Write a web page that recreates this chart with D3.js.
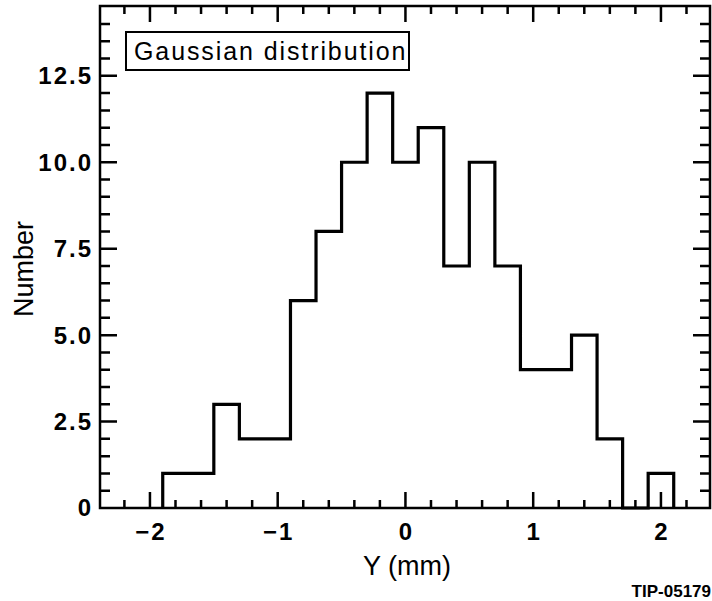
<!DOCTYPE html>
<html>
<head>
<meta charset="utf-8">
<script src="https://cdn.jsdelivr.net/npm/d3@7"></script>
<style>
  html, body { margin: 0; padding: 0; background: #fff; }
  svg { display: block; }
  text { font-family: "Liberation Sans", Arial, Helvetica, sans-serif; fill: #000; }
</style>
</head>
<body>
<svg id="chart" width="712" height="601"></svg>
<script>
// ---- data ----
const binStarts = [-1.9, -1.7, -1.5, -1.3, -1.1, -0.9, -0.7, -0.5, -0.3, -0.1,
                   0.1, 0.3, 0.5, 0.7, 0.9, 1.1, 1.3, 1.5, 1.7, 1.9];
const binWidth = 0.2;
const counts = [1, 1, 3, 2, 2, 6, 8, 10, 12, 10,
                11, 7, 10, 7, 4, 4, 5, 2, 0, 1];
const xTickValues = [-2, -1, 0, 1, 2];
const xTickLabels = ["−2", "−1", "0", "1", "2"];
const yTickValues = [0, 2.5, 5, 7.5, 10, 12.5];
const yTickLabels = ["0", "2.5", "5.0", "7.5", "10.0", "12.5"];
const legendLabel = "Gaussian distribution";
const xTitle = "Y (mm)";
const yTitle = "Number";
const figureId = "TIP-05179";

// ---- layout ----
const L = 100, R = 710, T = 6, B = 508;
const svg = d3.select("#chart");

const x = d3.scaleLinear().domain([-2.391, 2.384]).range([L, R]);
const y = d3.scaleLinear().domain([0, 14.52]).range([B, T]);

// frame + inward ticks on all four sides, one path
const xMinorVals = d3.range(-11, 12).map(k => k / 5).filter(v => x(v) > L + 1 && x(v) < R - 1);
const yMinorVals = d3.range(1, 29).map(k => k / 2).filter(v => y(v) > T + 1);
const isMajorX = v => xTickValues.some(t => Math.abs(t - v) < 1e-6);
const isMajorY = v => yTickValues.some(t => Math.abs(t - v) < 1e-6);

const fp = d3.path();
fp.rect(L, T, R - L, B - T);
xMinorVals.forEach(v => {
  const len = isMajorX(v) ? 16 : 8;
  const px = x(v);
  fp.moveTo(px, B); fp.lineTo(px, B - len);
  fp.moveTo(px, T); fp.lineTo(px, T + len);
});
yMinorVals.forEach(v => {
  const len = isMajorY(v) ? 17 : 10;
  const py = y(v);
  fp.moveTo(L, py); fp.lineTo(L + len, py);
  fp.moveTo(R, py); fp.lineTo(R - len, py);
});

// histogram outline
const pts = [[binStarts[0], 0]];
binStarts.forEach((s, i) => pts.push([s, counts[i]]));
pts.push([binStarts[binStarts.length - 1] + binWidth, 0]);
const line = d3.line().x(d => x(d[0])).y(d => y(d[1])).curve(d3.curveStepAfter);
svg.append("path")
  .attr("d", line(pts))
  .attr("fill", "none")
  .attr("stroke", "#000")
  .attr("stroke-width", 3.2)
  .attr("stroke-linejoin", "miter");

svg.append("path")
  .attr("d", fp.toString())
  .attr("fill", "none")
  .attr("stroke", "#000")
  .attr("stroke-width", 2.5);

// tick labels
svg.append("g").selectAll("text").data(xTickValues).join("text")
  .attr("x", d => x(d) + 1)
  .attr("y", B + 32)
  .attr("text-anchor", "middle")
  .attr("font-size", 24).attr("font-weight", "bold")
  .attr("letter-spacing", 2)
  .text((d, i) => xTickLabels[i]);

svg.append("g").selectAll("text").data(yTickValues).join("text")
  .attr("x", 93)
  .attr("y", d => y(d))
  .attr("dy", "0.35em")
  .attr("text-anchor", "end")
  .attr("font-size", 24).attr("font-weight", "bold")
  .attr("letter-spacing", 2)
  .text((d, i) => yTickLabels[i]);

// axis titles
svg.append("text")
  .attr("x", 407).attr("y", 575)
  .attr("text-anchor", "middle")
  .attr("font-size", 27)
  .text(xTitle);

svg.append("text")
  .attr("transform", "translate(33,269) rotate(-90)")
  .attr("text-anchor", "middle")
  .attr("font-size", 27)
  .text(yTitle);

// legend box
svg.append("rect")
  .attr("x", 126).attr("y", 32).attr("width", 283).attr("height", 38)
  .attr("fill", "#fff").attr("stroke", "#000").attr("stroke-width", 2);
svg.append("text")
  .attr("x", 134).attr("y", 60)
  .attr("font-size", 25)
  .attr("letter-spacing", 1.9)
  .text(legendLabel);

// figure id
svg.append("text")
  .attr("x", 711).attr("y", 596.5)
  .attr("text-anchor", "end")
  .attr("font-size", 17).attr("font-weight", "bold")
  .text(figureId);
</script>
</body>
</html>
